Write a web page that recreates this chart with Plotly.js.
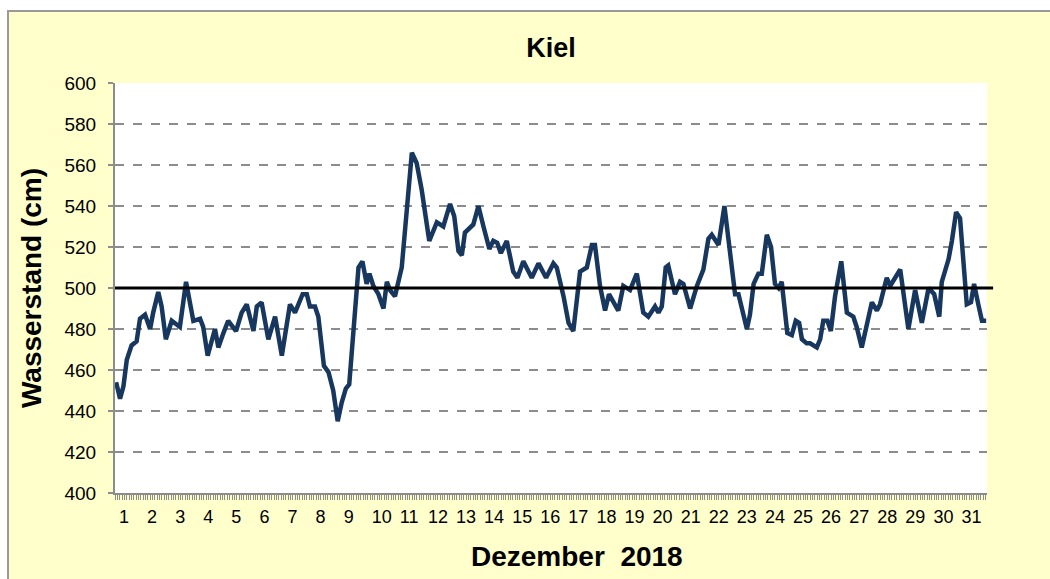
<!DOCTYPE html>
<html>
<head>
<meta charset="utf-8">
<script src="https://cdn.plot.ly/plotly-3.0.1.min.js"></script>
<style>
  html, body { margin: 0; padding: 0; background: #ffffff; width: 1050px; height: 579px; overflow: hidden; }
  #frame { position: absolute; left: 7px; top: 10px; width: 1041px; height: 567px;
           border-left: 2px solid #9a9a9a; border-top: 2px solid #9a9a9a; background: #FFFFCC; }
  #chart { width: 1041px; height: 567px; }
</style>
</head>
<body>
<div id="frame"><div id="chart"></div></div>
<script>
// Time in days (December 2018, 1.0 = Dec 1 00:00), water level in cm
const days = [
  1.04, 1.18, 1.30, 1.42, 1.59, 1.77, 1.89, 2.07, 2.25, 2.36,
  2.54, 2.66, 2.81, 3.02, 3.31, 3.53, 3.79, 4.03, 4.14, 4.30,
  4.56, 4.68, 4.86, 5.03, 5.31, 5.51, 5.69, 5.93, 6.05, 6.22,
  6.46, 6.70, 6.94, 7.23, 7.41, 7.68, 7.83, 7.94, 8.12, 8.24,
  8.44, 8.60, 8.77, 8.93, 9.07, 9.22, 9.34, 9.67, 9.81, 9.96,
  10.06, 10.20, 10.38, 10.56, 10.68, 10.79, 10.97, 11.21, 11.39, 11.57,
  11.74, 11.92, 12.19, 12.46, 12.69, 12.93, 13.08, 13.23, 13.35, 13.46,
  13.76, 13.94, 14.12, 14.33, 14.47, 14.61, 14.74, 14.95, 15.18, 15.33,
  15.54, 15.84, 16.08, 16.35, 16.61, 16.73, 16.97, 17.15, 17.32, 17.56,
  17.80, 17.98, 18.09, 18.27, 18.45, 18.59, 18.92, 19.10, 19.34, 19.58,
  19.81, 19.99, 20.23, 20.35, 20.47, 20.61, 20.70, 20.94, 21.12, 21.24,
  21.48, 21.72, 21.95, 22.13, 22.25, 22.37, 22.49, 22.70, 22.90, 23.08,
  23.20, 23.50, 23.61, 23.74, 23.91, 24.03, 24.21, 24.36, 24.50, 24.63,
  24.74, 24.94, 25.10, 25.24, 25.36, 25.46, 25.63, 25.75, 25.99, 26.11,
  26.22, 26.37, 26.49, 26.64, 26.86, 27.06, 27.29, 27.41, 27.59, 27.77,
  27.95, 28.13, 28.24, 28.48, 28.60, 28.78, 28.96, 29.25, 29.49, 29.73,
  29.97, 30.17, 30.35, 30.44, 30.68, 30.80, 30.95, 31.09, 31.19, 31.33,
  31.48, 31.59, 31.74, 31.87, 32.02
];
const level = [
  454, 446, 452, 465, 472, 474, 485, 487, 480, 488,
  498, 491, 475, 484, 481, 503, 484, 485, 481, 467,
  480, 471, 478, 484, 479, 488, 492, 479, 491, 493,
  475, 486, 467, 492, 488, 497, 497, 491, 491, 486,
  462, 459, 450, 435, 444, 451, 453, 510, 513, 502,
  507, 501, 497, 490, 503, 499, 496, 510, 538, 566,
  561, 548, 523, 532, 530, 541, 535, 518, 516, 527,
  531, 540, 530, 519, 523, 522, 517, 523, 508, 505,
  513, 505, 512, 505, 512, 510, 496, 483, 479, 508,
  510, 521, 521, 501, 489, 497, 489, 501, 499, 507,
  488, 486, 491, 488, 491, 510, 511, 497, 503, 502,
  490, 501, 509, 524, 526, 523, 521, 540, 515, 497,
  497, 480, 487, 502, 507, 507, 526, 520, 502, 500,
  503, 478, 477, 484, 483, 475, 473, 473, 471, 475,
  484, 484, 479, 496, 513, 488, 486, 481, 471, 483,
  493, 489, 492, 505, 501, 505, 509, 480, 499, 483,
  500, 497, 486, 503, 514, 523, 537, 534, 514, 492,
  493, 502, 492, 484, 484
];
const tickDays = Array.from({length: 31}, (_, i) => i + 1);
const tickLabels = tickDays.map(String);
const meanLevel = 500;

const FONT = 'Liberation Sans, Arial, sans-serif';

const trace = {
  x: days, y: level, type: 'scatter', mode: 'lines',
  line: { color: '#17375E', width: 4.5 },
  hoverinfo: 'skip'
};

const layout = {
  width: 1041, height: 567,
  margin: { l: 106, r: 63, t: 71, b: 86 },
  paper_bgcolor: '#FFFFCC',
  plot_bgcolor: '#FFFFFF',
  showlegend: false,
  font: { family: FONT, color: '#000000', size: 18 },
  title: {
    text: '<b>Kiel</b>',
    font: { family: FONT, size: 27, color: '#000000' },
    x: 0.5, xref: 'paper', y: 1 - 36/567, yref: 'container', yanchor: 'middle'
  },
  xaxis: {
    range: [1, 32.05],
    tickmode: 'array', tickvals: tickDays, ticktext: tickLabels,
    ticklabelposition: 'outside right',
    ticklabelshift: 3,
    ticks: '', showgrid: false, zeroline: false,
    showline: true, linecolor: '#8c8c8c', linewidth: 2,
    tickfont: { family: FONT, size: 18, color: '#000000' },
    ticklabelstandoff: 6,
    minor: { dtick: 1/12, tick0: 1, ticks: 'outside', ticklen: 5, tickwidth: 1, tickcolor: '#8c8c8c', showgrid: false }
  },
  yaxis: {
    range: [400, 600],
    tickmode: 'linear', tick0: 400, dtick: 20,
    ticks: 'outside', ticklen: 5, tickwidth: 1.5, tickcolor: '#8c8c8c',
    showgrid: true, gridcolor: '#8c8c8c', gridwidth: 1.5, griddash: 'dash',
    zeroline: false,
    showline: true, linecolor: '#8c8c8c', linewidth: 2,
    tickfont: { family: FONT, size: 19, color: '#000000' },
    ticklabelstandoff: 8,
    title: { text: '<b>Wasserstand (cm)</b>', font: { family: FONT, size: 28, color: '#000000' }, standoff: 15 }
  },
  shapes: [{
    type: 'line', xref: 'paper', yref: 'y', x0: 0, x1: 1.007, y0: meanLevel, y1: meanLevel,
    line: { color: '#000000', width: 3 }
  }],
  annotations: [{
    text: '<b>Dezember  2018</b>', xref: 'paper', yref: 'paper',
    x: 0.53, y: -0.156, xanchor: 'center', yanchor: 'middle', showarrow: false,
    font: { family: FONT, size: 28, color: '#000000' }
  }]
};

Plotly.newPlot('chart', [trace], layout, { staticPlot: true, displayModeBar: false });
</script>
</body>
</html>
